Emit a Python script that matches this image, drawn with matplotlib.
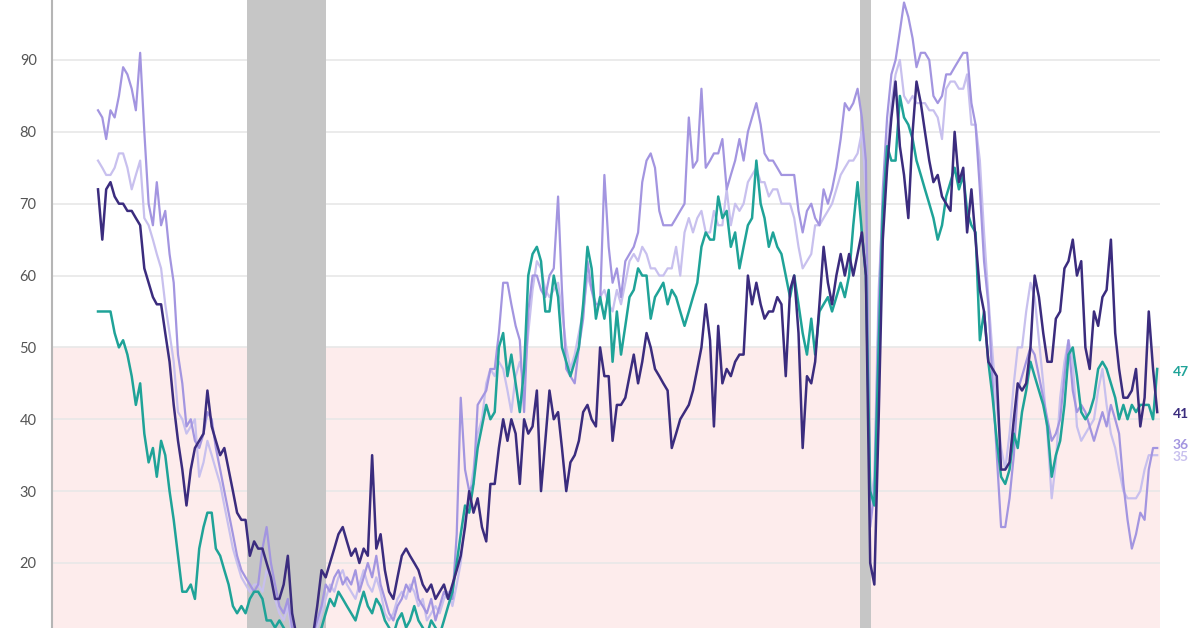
import matplotlib
matplotlib.use("Agg")
import matplotlib.pyplot as plt
import matplotlib.dates as mdates
import pandas as pd

# ---------------- data (monthly, Jan 2005 - Dec 2025) ----------------
months = pd.date_range("2005-01-01", periods=252, freq="MS")

west = [
    83, 82, 79, 83, 82, 85, 89, 88, 86, 83, 91, 80,
    70, 67, 73, 67, 69, 63, 59, 49, 45, 39, 40, 37,
    36, 38, 41, 40, 36, 33, 30, 27, 24, 21, 19, 18,
    17, 16, 17, 22, 25, 20, 17, 14, 13, 15, 11, 9,
    8, 8, 9, 10, 12, 14, 17, 16, 18, 19, 17, 18,
    17, 19, 16, 18, 20, 18, 21, 17, 15, 13, 12, 14,
    15, 17, 16, 18, 15, 14, 13, 15, 12, 14, 16, 15,
    15, 24, 43, 33, 30, 31, 42, 43, 44, 47, 47, 52,
    59, 59, 56, 53, 51, 41, 55, 60, 60, 58, 57, 60,
    61, 71, 58, 47, 46, 45, 50, 54, 62, 58, 56, 56,
    74, 64, 59, 61, 57, 62, 63, 64, 66, 73, 76, 77,
    75, 69, 67, 67, 67, 68, 69, 70, 82, 75, 76, 86,
    75, 76, 77, 77, 79, 72, 74, 76, 79, 76, 80, 82,
    84, 81, 77, 76, 76, 75, 74, 74, 74, 74, 69, 66,
    69, 70, 68, 67, 72, 70, 72, 75, 79, 84, 83, 84,
    86, 82, 76, 25, 30, 55, 72, 82, 88, 90, 94, 98,
    96, 93, 89, 91, 91, 90, 85, 84, 85, 88, 88, 89,
    90, 91, 91, 84, 81, 72, 62, 56, 45, 35, 25, 25,
    29, 35, 44, 46, 48, 50, 49, 46, 43, 40, 37, 38,
    40, 46, 51, 44, 41, 42, 41, 39, 37, 39, 41, 39,
    42, 40, 38, 31, 26, 22, 24, 27, 26, 33, 36, 36,
]

south = [
    76, 75, 74, 74, 75, 77, 77, 75, 72, 74, 76, 68,
    67, 65, 63, 61, 56, 52, 48, 41, 40, 38, 39, 40,
    32, 34, 37, 35, 33, 31, 28, 25, 22, 20, 18, 17,
    16, 17, 17, 16, 19, 18, 15, 13, 12, 14, 10, 9,
    8, 9, 8, 10, 11, 13, 15, 17, 16, 18, 19, 17,
    16, 15, 17, 19, 17, 16, 18, 16, 13, 12, 13, 15,
    16, 15, 17, 16, 14, 15, 12, 13, 14, 13, 15, 16,
    14, 17, 20, 26, 29, 33, 38, 40, 45, 47, 46, 48,
    47, 44, 41, 46, 48, 45, 52, 58, 62, 61, 58, 57,
    58, 59, 55, 50, 47, 49, 52, 55, 60, 58, 55, 57,
    58, 56, 55, 58, 56, 59, 62, 63, 62, 64, 63, 61,
    61, 60, 60, 61, 61, 64, 60, 66, 68, 66, 68, 69,
    66, 66, 69, 67, 67, 72, 67, 70, 69, 70, 73, 74,
    75, 73, 73, 71, 72, 72, 70, 70, 70, 68, 64, 61,
    62, 63, 67, 67, 68, 69, 70, 72, 74, 75, 76, 76,
    77, 80, 72, 28, 32, 58, 70, 77, 84, 88, 90, 85,
    84, 85, 84, 84, 84, 83, 83, 82, 79, 86, 87, 87,
    86, 86, 88, 81, 81, 76, 66, 57, 49, 42, 36, 33,
    38, 45, 50, 50, 55, 59, 57, 51, 45, 38, 29, 34,
    43, 48, 51, 48, 39, 37, 38, 39, 40, 44, 47, 42,
    38, 36, 33, 30, 29, 29, 29, 30, 33, 35, 35, 35,
]

northeast = [
    72, 65, 72, 73, 71, 70, 70, 69, 69, 68, 67, 61,
    59, 57, 56, 56, 52, 48, 42, 37, 33, 28, 33, 36,
    37, 38, 44, 39, 37, 35, 36, 33, 30, 27, 26, 26,
    21, 23, 22, 22, 20, 18, 15, 15, 17, 21, 13, 10,
    9, 9, 8, 10, 14, 19, 18, 20, 22, 24, 25, 23,
    21, 22, 20, 22, 21, 35, 22, 24, 19, 16, 15, 18,
    21, 22, 21, 20, 19, 17, 16, 17, 15, 16, 17, 15,
    17, 19, 21, 25, 30, 27, 29, 25, 23, 31, 31, 36,
    40, 37, 40, 38, 31, 40, 38, 39, 44, 30, 37, 44,
    40, 41, 36, 30, 34, 35, 37, 41, 42, 40, 39, 50,
    46, 46, 37, 42, 42, 43, 46, 49, 45, 48, 52, 50,
    47, 46, 45, 44, 36, 38, 40, 41, 42, 44, 47, 50,
    56, 51, 39, 53, 45, 47, 46, 48, 49, 49, 60, 56,
    59, 56, 54, 55, 55, 57, 56, 46, 58, 60, 52, 36,
    46, 45, 48, 56, 64, 59, 56, 60, 63, 60, 63, 60,
    63, 66, 60, 20, 17, 40, 65, 75, 82, 87, 78, 74,
    68, 80, 87, 84, 80, 76, 73, 74, 71, 70, 69, 80,
    73, 75, 66, 72, 65, 58, 55, 48, 47, 46, 33, 33,
    34, 40, 45, 44, 45, 50, 60, 57, 52, 48, 48, 54,
    55, 61, 62, 65, 60, 62, 50, 47, 55, 53, 57, 58,
    65, 52, 47, 43, 43, 44, 47, 39, 43, 55, 47, 41,
]

midwest = [
    55, 55, 55, 55, 52, 50, 51, 49, 46, 42, 45, 38,
    34, 36, 32, 37, 35, 30, 26, 21, 16, 16, 17, 15,
    22, 25, 27, 27, 22, 21, 19, 17, 14, 13, 14, 13,
    15, 16, 16, 15, 12, 12, 11, 12, 11, 10, 9, 8,
    7, 8, 7, 9, 10, 11, 13, 15, 14, 16, 15, 14,
    13, 12, 14, 16, 14, 13, 15, 14, 12, 11, 10, 12,
    13, 11, 12, 14, 12, 11, 10, 12, 11, 10, 12, 14,
    16, 20, 24, 28, 27, 31, 36, 39, 42, 40, 41, 50,
    52, 46, 49, 45, 41, 47, 60, 63, 64, 62, 55, 55,
    60, 57, 50, 48, 46, 48, 50, 56, 64, 61, 54, 57,
    54, 58, 48, 55, 49, 53, 57, 58, 61, 60, 60, 54,
    57, 58, 59, 56, 58, 57, 55, 53, 55, 57, 59, 64,
    66, 65, 65, 71, 68, 69, 64, 66, 61, 64, 67, 68,
    76, 70, 68, 64, 66, 64, 63, 60, 57, 60, 56, 52,
    49, 54, 49, 55, 56, 57, 55, 57, 59, 57, 60, 67,
    73, 66, 60, 30, 28, 50, 69, 78, 76, 76, 85, 82,
    81, 79, 76, 74, 72, 70, 68, 65, 67, 71, 73, 75,
    72, 74, 69, 67, 66, 51, 55, 48, 43, 37, 32, 31,
    33, 38, 36, 41, 44, 48, 46, 44, 42, 39, 32, 35,
    37, 42, 49, 50, 46, 41, 40, 41, 43, 47, 48, 47,
    45, 43, 40, 42, 40, 42, 41, 42, 42, 42, 40, 47,
]

recessions = [("2007-12-15", "2009-06-30"), ("2020-01-15", "2020-04-10")]
threshold = 50
yticks = [20, 30, 40, 50, 60, 70, 80, 90]

# ---------------- style ----------------
c_dark = "#3b2c7e"
c_teal = "#1fa398"
c_med = "#a395e0"
c_pale = "#c8c0ee"

plt.rcParams["font.family"] = ["Lato", "DejaVu Sans"]

W, H = 1196, 628
fig = plt.figure(figsize=(W / 100, H / 100), dpi=100)
ax = fig.add_axes([52 / W, 0, (1160 - 52) / W, 1])

x0 = mdates.date2num(months[0]) - 10.9 * 30.44
x1 = mdates.date2num(months[-1]) + 0.66 * 30.44
ax.set_xlim(x0, x1)
ax.set_ylim(10.95, 98.35)

# pessimism zone
ax.axhspan(0, threshold, color="#fdecec", zorder=0, lw=0)
for s, e in recessions:
    ax.axvspan(pd.Timestamp(s), pd.Timestamp(e), color="#c6c6c6", zorder=1, lw=0)

ax.set_yticks(yticks)
ax.yaxis.grid(True, color="#e8e8e8", lw=1.2, zorder=0.5)
ax.set_axisbelow(True)
ax.tick_params(axis="y", length=0, pad=11, labelsize=10.5, labelcolor="#555555")
ax.tick_params(axis="x", length=0, labelbottom=False)
for sp in ["top", "right", "bottom"]:
    ax.spines[sp].set_visible(False)
ax.spines["left"].set_color("#b5b5b5")
ax.spines["left"].set_linewidth(1.5)

ax.plot(months, south, color=c_pale, lw=1.6, zorder=3)
ax.plot(months, west, color=c_med, lw=1.6, zorder=3.2)
ax.plot(months, midwest, color=c_teal, lw=1.8, zorder=3.4)
ax.plot(months, northeast, color=c_dark, lw=1.8, zorder=3.6)

# end labels
ends = [(midwest, c_teal, -2.5), (northeast, c_dark, -1.5), (west, c_med, 2.5), (south, c_pale, -1.5)]
for series, col, dy in ends:
    ax.annotate(f"{series[-1]}", xy=(months[-1], series[-1]), xytext=(11, dy),
                textcoords="offset points", va="center", ha="left",
                fontsize=10, fontweight="bold", color=col, annotation_clip=False)

fig.savefig("out.png", dpi=100)
